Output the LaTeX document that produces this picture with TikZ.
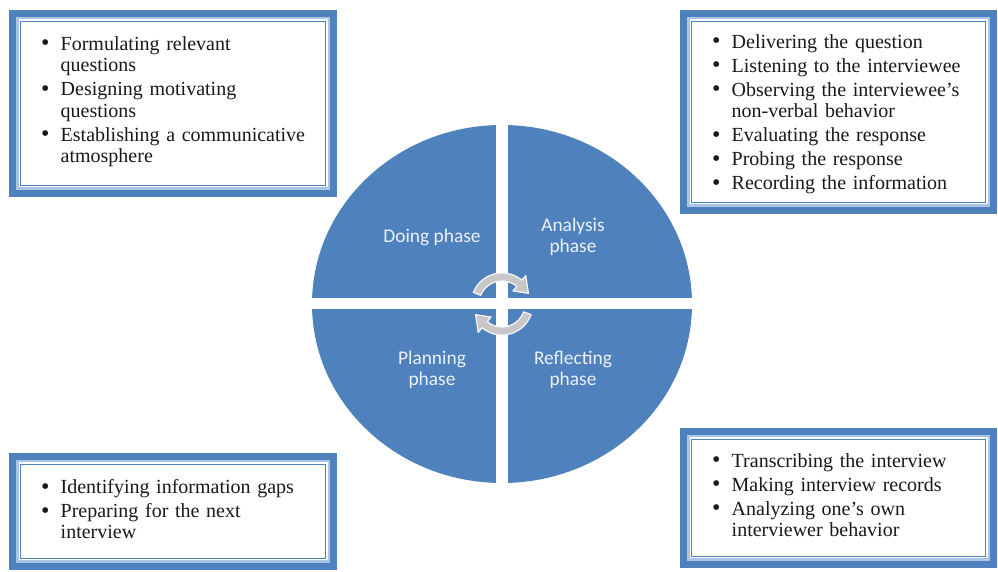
\documentclass[tikz,border=0pt]{standalone}
\usepackage{fontspec}
\setmainfont{Liberation Serif}
\newfontfamily\calib{Carlito}
\definecolor{boxblue}{RGB}{79,129,189}
\definecolor{circblue}{RGB}{79,129,189}
\definecolor{lightband}{RGB}{170,198,230}
\definecolor{phasetext}{RGB}{236,241,248}
\definecolor{arrowgray}{RGB}{200,200,200}
\definecolor{txt}{RGB}{25,25,25}
\newcommand\fbx[4]{%
  \fill[boxblue] (#1,#2) rectangle (#3,#4);
  \fill[lightband] (#1+7,#2+7) rectangle (#3-7,#4-7);
  \fill[white] (#1+9.5,#2+9.5) rectangle (#3-9.5,#4-9.5);
  \draw[boxblue, line width=1.5pt] (#1+11.3,#2+11.3) rectangle (#3-11.3,#4-11.3);
}
\newcommand\blt{\makebox[19.5pt][l]{\raisebox{-0.8pt}{\fontsize{24}{24}\selectfont\textbullet}}}
\newcommand\bli[1]{\noindent\blt#1}
\newcommand\bl[1]{\par\vspace{2.5pt}\noindent\blt#1}
\newcommand\cl[1]{\par\noindent\hspace*{19.5pt}#1}
\tikzset{
  listtext/.style={anchor=north west, inner sep=0pt, text width=300pt, text=txt,
    font=\fontsize{20}{21.5}\selectfont\setlength{\parskip}{0pt}},
  phase/.style={align=center, text=phasetext, inner sep=0pt,
    font=\calib\fontsize{19.4}{21}\selectfont},
  cyc/.style={fill=arrowgray, draw=white!93!gray, line width=1.2pt, line join=round}
}
\begin{document}
\begin{tikzpicture}[x=1pt,y=1pt]
\useasboundingbox (0,0) rectangle (998,572);
\fill[white] (0,0) rectangle (998,572);

% central circle
\fill[circblue] (502,268) ellipse [x radius=190, y radius=179];
\fill[white] (496,80) rectangle (508,456);
\fill[white] (300,262.5) rectangle (704,274);

% phase labels
\node[phase] (doing) at (432,335) {Doing phase};
\node[phase] (analysis) at (573,335) {Analysis\\phase};
\node[phase] (planning) at (432,202) {Planning\\phase};
\node[phase] (reflecting) at (573,202) {Reflecting\\phase};

% circular arrows
\begin{scope}[shift={(502,268)}]
  \path[cyc] (158:31) arc[start angle=158, end angle=50, radius=31]
     -- (50:37) -- (22:28.5) -- (50:17) -- (50:23)
     arc[start angle=50, end angle=158, radius=23] -- cycle;
  \path[cyc] (-20:31) arc[start angle=-20, end angle=-130, radius=31]
     -- (-130:37) -- (-158:28.5) -- (-130:17) -- (-130:23)
     arc[start angle=-130, end angle=-20, radius=23] -- cycle;
\end{scope}

% boxes
\fbx{9}{375}{337}{562}
\fbx{680}{358}{997}{562}
\fbx{9}{2}{337}{119}
\fbx{680}{4}{997}{144}

\node[listtext] (tl) at (41,536) {%
  \bli{Formulating relevant}\cl{questions}
  \bl{Designing motivating}\cl{questions}
  \bl{Establishing a communicative}\cl{atmosphere}};
\node[listtext] (tr) at (712,538) {%
  \bli{Delivering the question}
  \bl{Listening to the interviewee}
  \bl{Observing the interviewee's}\cl{non-verbal behavior}
  \bl{Evaluating the response}
  \bl{Probing the response}
  \bl{Recording the information}};
\node[listtext] (blt) at (41,93) {%
  \bli{Identifying information gaps}
  \bl{Preparing for the next}\cl{interview}};
\node[listtext] (brt) at (712,119) {%
  \bli{Transcribing the interview}
  \bl{Making interview records}
  \bl{Analyzing one's own}\cl{interviewer behavior}};
\end{tikzpicture}
\end{document}
